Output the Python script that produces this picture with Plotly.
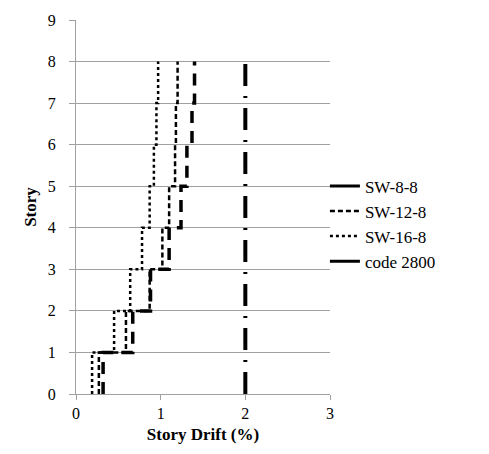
import numpy as np
import plotly.graph_objects as go

stories = [1, 2, 3, 4, 5, 6, 7, 8]
sw_8_8 = [0.32, 0.67, 0.88, 1.10, 1.24, 1.31, 1.37, 1.40]
sw_12_8 = [0.27, 0.59, 0.87, 1.02, 1.10, 1.17, 1.18, 1.20]
sw_16_8 = [0.19, 0.45, 0.64, 0.78, 0.87, 0.92, 0.95, 0.97]
code_2800 = [2.0, 2.0, 2.0, 2.0, 2.0, 2.0, 2.0, 2.0]

x_ticks = [0, 1, 2, 3]
y_ticks = [0, 1, 2, 3, 4, 5, 6, 7, 8, 9]


def step(drift):
    # each story spans from (story-1) to story at constant drift
    xs = np.repeat(drift, 2)
    ys = np.ravel([[s - 1, s] for s in stories])
    return xs, ys


series = [
    ("SW-8-8", sw_8_8, dict(color="black", width=3.5, dash="12px,8px"),
     dict(color="black", width=3, dash="solid")),
    ("SW-12-8", sw_12_8, dict(color="black", width=2.5, dash="5px,3px"),
     dict(color="black", width=2.5, dash="5px,3px")),
    ("SW-16-8", sw_16_8, dict(color="black", width=2.5, dash="dot"),
     dict(color="black", width=2.5, dash="dot")),
    ("code 2800", code_2800, dict(color="black", width=4, dash="22px,10px,2px,10px"),
     dict(color="black", width=3, dash="solid")),
]

fig = go.Figure()
for name, vals, line, leg_line in series:
    xs, ys = step(vals)
    fig.add_trace(go.Scatter(x=xs, y=ys, mode="lines", name=name, line=line,
                             showlegend=False))
for name, vals, line, leg_line in series:
    fig.add_trace(go.Scatter(x=[None], y=[None], mode="lines", name=name,
                             line=leg_line, showlegend=True))

font = "Times New Roman, Liberation Serif, serif"
fig.update_layout(
    width=489,
    height=454,
    margin=dict(l=76, r=159, t=14, b=60),
    plot_bgcolor="white",
    paper_bgcolor="white",
    font=dict(family=font, size=16, color="black"),
    legend=dict(
        x=0.98, y=0.455, xanchor="left", yanchor="middle",
        font=dict(family=font, size=17, color="black"),
        tracegroupgap=0, itemwidth=30,
        bgcolor="rgba(0,0,0,0)",
    ),
    xaxis=dict(
        range=[0, 3], tickvals=x_ticks, showgrid=False, zeroline=False,
        showline=True, linecolor="#a0a0a0", linewidth=1,
        ticks="outside", ticklen=5, tickcolor="#a0a0a0",
        tickfont=dict(family=font, size=16),
        title=dict(text="<b>Story Drift (%)</b>", font=dict(family=font, size=17), standoff=6),
    ),
    yaxis=dict(
        range=[0, 9], tickvals=y_ticks, showgrid=True, gridcolor="#a0a0a0", gridwidth=1,
        zeroline=False, showline=True, linecolor="#a0a0a0", linewidth=1,
        ticks="outside", ticklen=6, tickcolor="#a0a0a0",
        ticklabelstandoff=10,
        tickfont=dict(family=font, size=16),
        title=dict(text="<b>Story</b>", font=dict(family=font, size=17), standoff=6),
    ),
)

fig.write_html("out.html")
